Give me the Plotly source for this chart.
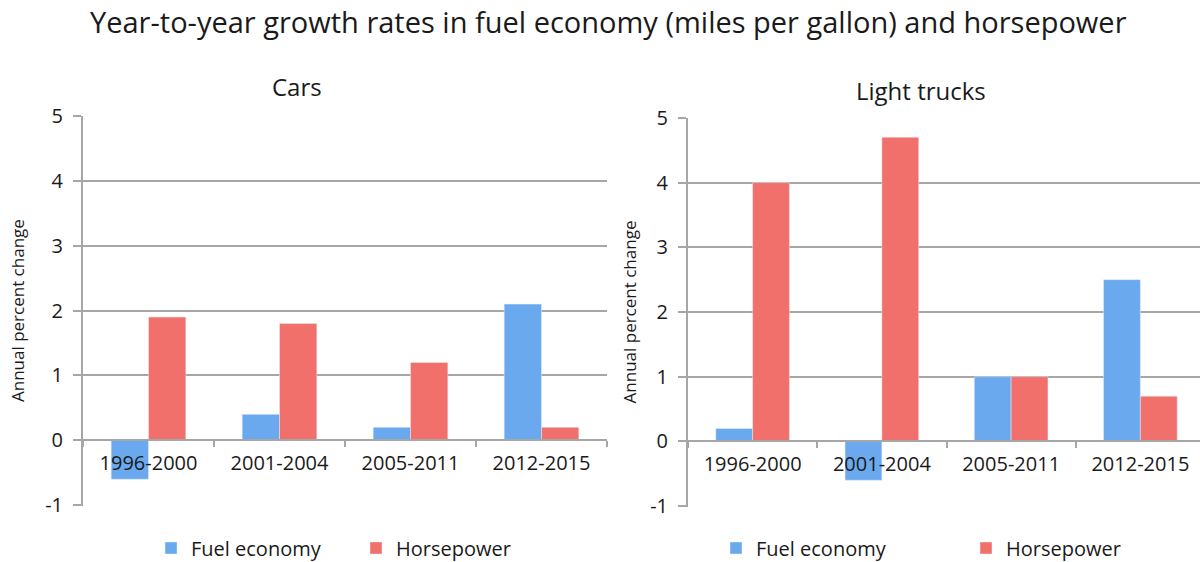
import plotly.graph_objects as go

categories = ["1996-2000", "2001-2004", "2005-2011", "2012-2015"]
cars_fuel = [-0.6, 0.4, 0.2, 2.1]
cars_hp = [1.9, 1.8, 1.2, 0.2]
trucks_fuel = [0.2, -0.6, 1.0, 2.5]
trucks_hp = [4.0, 4.7, 1.0, 0.7]
y_ticks = [-1, 0, 1, 2, 3, 4, 5]
y_tick_labels = ["-1", "0", "1", "2", "3", "4", "5"]

title_text = "Year-to-year growth rates in fuel economy (miles per gallon) and horsepower"
panel_titles = ["Cars", "Light trucks"]
y_title = "Annual percent change"
series_names = ["Fuel economy", "Horsepower"]

BLUE = "#6aa9ee"
RED = "#f2706c"
GRID = "#a6a6a6"
FONT = "Open Sans"
TXT = "#1a1a1a"

W, H = 1200, 562


def px_x(p):
    return p / W


def px_y(p):
    return 1 - p / H


left_dom_x = [px_x(83), px_x(607)]
left_dom_y = [px_y(505.5), px_y(115.7)]
right_dom_x = [px_x(688), 1.0]
right_dom_y = [px_y(506.5), px_y(117.5)]
right_cat_w = (1205 - 688) / 4.0
right_xmax = -0.5 + (1200 - 688) / right_cat_w

fig = go.Figure()

fig.add_trace(go.Bar(x=categories, y=cars_fuel, name=series_names[0], marker_color=BLUE,
                     xaxis="x", yaxis="y", legend="legend"))
fig.add_trace(go.Bar(x=categories, y=cars_hp, name=series_names[1], marker_color=RED,
                     xaxis="x", yaxis="y", legend="legend"))
fig.add_trace(go.Bar(x=categories, y=trucks_fuel, name=series_names[0], marker_color=BLUE,
                     xaxis="x2", yaxis="y2", legend="legend2"))
fig.add_trace(go.Bar(x=categories, y=trucks_hp, name=series_names[1], marker_color=RED,
                     xaxis="x2", yaxis="y2", legend="legend2"))

pad = 0.005
ymin, ymax = y_ticks[0] - pad, y_ticks[-1] + pad


def zero_pos(dom):
    return dom[0] + (0 - ymin) / (ymax - ymin) * (dom[1] - dom[0])


xaxis_common = dict(
    type="category", showgrid=False, showline=True, linecolor=GRID, linewidth=2,
    ticks="outside", tickson="boundaries", ticklen=6, tickcolor=GRID, tickwidth=2,
    tickfont=dict(family=FONT, size=20, color=TXT), anchor="free", layer="above traces",
    fixedrange=True, automargin=False, ticklabelstandoff=5,
)
yaxis_common = dict(
    range=[ymin, ymax], tickvals=y_ticks, ticktext=y_tick_labels,
    showgrid=True, gridcolor=GRID, gridwidth=2,
    showline=True, linecolor=GRID, linewidth=2, ticks="outside", ticklen=8,
    tickcolor=GRID, tickwidth=2, zeroline=False, automargin=False,
    ticklabelstandoff=6, fixedrange=True,
    tickfont=dict(family=FONT, size=20, color=TXT),
)

fig.update_layout(
    width=W, height=H,
    margin=dict(l=0, r=0, t=0, b=0, autoexpand=False),
    paper_bgcolor="white", plot_bgcolor="white",
    barmode="group", bargap=0.43, bargroupgap=0,
    font=dict(family=FONT, color=TXT),
    xaxis=dict(domain=left_dom_x, position=zero_pos(left_dom_y), range=[-0.5, 3.5],
               **xaxis_common),
    yaxis=dict(domain=left_dom_y, anchor="x",
               title=dict(text=y_title, font=dict(family=FONT, size=17, color=TXT), standoff=16),
               **yaxis_common),
    xaxis2=dict(domain=right_dom_x, position=zero_pos(right_dom_y), range=[-0.5, right_xmax],
                **xaxis_common),
    yaxis2=dict(domain=right_dom_y, anchor="x2",
                title=dict(text=y_title, font=dict(family=FONT, size=17, color=TXT), standoff=9),
                **yaxis_common),
    legend=dict(orientation="h", x=px_x(151), xanchor="left", y=px_y(548), yanchor="middle",
                font=dict(family=FONT, size=20, color=TXT), entrywidth=160,
                bgcolor="rgba(0,0,0,0)"),
    legend2=dict(orientation="h", x=px_x(716), xanchor="left", y=px_y(548), yanchor="middle",
                 font=dict(family=FONT, size=20, color=TXT), entrywidth=205,
                 bgcolor="rgba(0,0,0,0)"),
    annotations=[
        dict(text=title_text, x=px_x(609), y=px_y(21), xref="paper", yref="paper",
             xanchor="center", yanchor="middle", showarrow=False,
             font=dict(family=FONT, size=29, color=TXT)),
        dict(text=panel_titles[0], x=px_x(297), y=px_y(86), xref="paper", yref="paper",
             xanchor="center", yanchor="middle", showarrow=False,
             font=dict(family=FONT, size=24, color=TXT)),
        dict(text=panel_titles[1], x=px_x(921), y=px_y(90), xref="paper", yref="paper",
             xanchor="center", yanchor="middle", showarrow=False,
             font=dict(family=FONT, size=24, color=TXT)),
    ],
)

fig.write_html("out.html", config={"displayModeBar": False},
               post_script="document.body.style.margin='0';")
